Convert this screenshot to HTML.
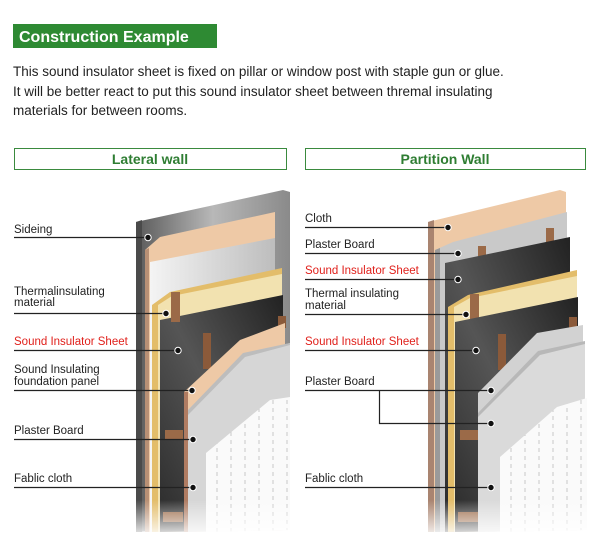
<!DOCTYPE html>
<html><head><meta charset="utf-8"><style>
body{margin:0;background:#fff;}
svg{display:block}
text{font-family:"Liberation Sans",Arial,sans-serif;}
</style></head><body>
<svg width="600" height="560" viewBox="0 0 600 560" xmlns="http://www.w3.org/2000/svg">
<defs>
<linearGradient id="sid" x1="0" x2="1" y1="0" y2="0"><stop offset="0" stop-color="#5a5a5a"/><stop offset="0.5" stop-color="#b8b8b8"/><stop offset="1" stop-color="#8a8a8a"/></linearGradient>
<linearGradient id="dark" x1="0" x2="1" y1="1" y2="0"><stop offset="0" stop-color="#2a2a2a"/><stop offset="0.5" stop-color="#555"/><stop offset="1" stop-color="#222"/></linearGradient>
<linearGradient id="silver" x1="0" x2="1"><stop offset="0" stop-color="#f4f4f4"/><stop offset="1" stop-color="#bdbdbd"/></linearGradient>
<linearGradient id="fade" x1="0" x2="0" y1="0" y2="1"><stop offset="0" stop-color="#fff" stop-opacity="0"/><stop offset="1" stop-color="#fff" stop-opacity="1"/></linearGradient>
<pattern id="dash" width="14" height="8" patternUnits="userSpaceOnUse"><rect width="14" height="8" fill="#fafafa"/><line x1="7" y1="0" x2="7" y2="4" stroke="#c8c8c8" stroke-width="1"/></pattern>
</defs>

<rect x="13" y="24" width="204" height="24" fill="#2e8a33"/>
<text x="19" y="42" font-size="16" font-weight="bold" fill="#fff">Construction Example</text>
<text font-size="13.5" fill="#222"><tspan x="13" y="76">This sound insulator sheet is fixed on pillar or window post with staple gun or glue.</tspan><tspan x="13" y="96">It will be better react to put this sound insulator sheet between thremal insulating</tspan><tspan x="13" y="115">materials for between rooms.</tspan></text>

<rect x="14.5" y="148.5" width="272" height="21" fill="#fff" stroke="#3a8a3e"/>
<text x="150" y="164" font-size="14" font-weight="bold" fill="#2e7d32" text-anchor="middle">Lateral wall</text>
<rect x="305.5" y="148.5" width="280" height="21" fill="#fff" stroke="#3a8a3e"/>
<text x="445" y="164" font-size="14" font-weight="bold" fill="#2e7d32" text-anchor="middle">Partition Wall</text>

<!-- LEFT WALL -->
<polygon points="136,222 283,190 290,192 290,522 136,532" fill="url(#sid)"/>
<polygon points="136,222 142,220 142,532 136,532" fill="#4a4a4a"/>
<polygon points="145,250 160,237 275,212 275,530 145,532" fill="#eec9a6"/>
<polygon points="145,250 149,248 149,532 145,532" fill="#b89075"/>
<polygon points="150,262 275,238 275,530 150,532" fill="url(#silver)"/>
<polygon points="152,305 170,292 282,268 282,530 152,532" fill="#e3bd6a"/>
<polygon points="158,305 172,296 282,274 282,530 158,532" fill="#f2e2b0"/>
<polygon points="160,320 283,295 283,530 160,532" fill="url(#dark)"/>
<rect x="171" y="292" width="9" height="30" fill="#9b6a48"/>
<rect x="203" y="333" width="8" height="36" fill="#8b5a3a"/>
<rect x="278" y="316" width="8" height="12" fill="#8b5a3a"/>
<polygon points="184,392 240,340 285,323 285,530 184,532" fill="#eec9a6"/>
<polygon points="184,392 188,392 188,532 184,532" fill="#b07c62"/>
<polygon points="188,410 243,355 290,343 290,530 188,532" fill="#d6d6d6"/>
<polygon points="188,410 243,353 290,343 290,345 245,357 188,415" fill="#bdbdbd"/>
<rect x="165" y="430" width="18" height="10" fill="#9b6a48"/>
<rect x="163" y="512" width="20" height="10" fill="#9b6a48"/>
<polygon points="206,453 270,400 290,397 290,530 206,532" fill="url(#dash)"/>
<rect x="130" y="500" width="165" height="40" fill="url(#fade)"/>

<!-- RIGHT WALL -->
<polygon points="428,222 560,190 566,192 566,522 428,532" fill="#eec9a6"/>
<polygon points="428,222 434,220 434,532 428,532" fill="#a98470"/>
<polygon points="435,250 453,242 567,212 567,530 435,532" fill="#c9c9c9"/>
<polygon points="435,250 440,248 440,532 435,532" fill="#9a9a9a"/>
<rect x="478" y="246" width="8" height="26" fill="#9b6a48"/>
<rect x="546" y="228" width="8" height="14" fill="#9b6a48"/>
<polygon points="445,263 570,237 570,530 445,532" fill="url(#dark)"/>
<polygon points="448,307 468,295 577,270 577,530 448,532" fill="#e3bd6a"/>
<polygon points="454,307 470,298 577,276 577,530 454,532" fill="#f2e2b0"/>
<rect x="470" y="294" width="9" height="30" fill="#9b6a48"/>
<polygon points="455,322 578,297 578,530 455,532" fill="url(#dark)"/>
<rect x="498" y="334" width="8" height="36" fill="#8b5a3a"/>
<rect x="569" y="317" width="8" height="12" fill="#8b5a3a"/>
<polygon points="478,393 537,333 583,325 583,530 478,532" fill="#d2d2d2"/>
<polygon points="478,413 538,353 585,343 585,530 478,532" fill="#dadada"/>
<polygon points="478,413 538,351 585,341 585,344 540,355 478,417" fill="#b8b8b8"/>
<rect x="460" y="430" width="18" height="10" fill="#9b6a48"/>
<rect x="458" y="512" width="20" height="10" fill="#9b6a48"/>
<polygon points="500,457 557,407 587,398 587,530 500,532" fill="url(#dash)"/>
<rect x="420" y="500" width="175" height="40" fill="url(#fade)"/>

<!-- LABELS -->
<g font-size="11.5" fill="#222">
<text x="14" y="233">Sideing</text>
<text x="14" y="295">Thermalinsulating</text><text x="14" y="306">material</text>
<text x="14" y="345" fill="#e0201b">Sound Insulator Sheet</text>
<text x="14" y="373">Sound Insulating</text><text x="14" y="385">foundation panel</text>
<text x="14" y="434">Plaster Board</text>
<text x="14" y="482">Fablic cloth</text>
<text x="305" y="222">Cloth</text>
<text x="305" y="248">Plaster Board</text>
<text x="305" y="274" fill="#e0201b">Sound Insulator Sheet</text>
<text x="305" y="297">Thermal insulating</text><text x="305" y="309">material</text>
<text x="305" y="345" fill="#e0201b">Sound Insulator Sheet</text>
<text x="305" y="385">Plaster Board</text>
<text x="305" y="482">Fablic cloth</text>
</g>
<g stroke="#222" stroke-width="1.2" fill="none">
<path d="M14 237.5H148M14 313.5H166M14 350.5H178M14 390.5H192M14 439.5H193M14 487.5H193"/>
<path d="M305 227.5H448M305 253.5H458M305 279.5H458M305 314.5H466M305 350.5H476M305 390.5H491M379.5 390V423.5H491M305 487.5H491"/>
</g>
<g fill="#111" stroke="#fff" stroke-width="1">
<circle cx="148" cy="237.5" r="3.2"/><circle cx="166" cy="313.5" r="3.2"/><circle cx="178" cy="350.5" r="3.2"/><circle cx="192" cy="390.5" r="3.2"/><circle cx="193" cy="439.5" r="3.2"/><circle cx="193" cy="487.5" r="3.2"/>
<circle cx="448" cy="227.5" r="3.2"/><circle cx="458" cy="253.5" r="3.2"/><circle cx="458" cy="279.5" r="3.2"/><circle cx="466" cy="314.5" r="3.2"/><circle cx="476" cy="350.5" r="3.2"/><circle cx="491" cy="390.5" r="3.2"/><circle cx="491" cy="423.5" r="3.2"/><circle cx="491" cy="487.5" r="3.2"/>
</g>
</svg>
</body></html>
